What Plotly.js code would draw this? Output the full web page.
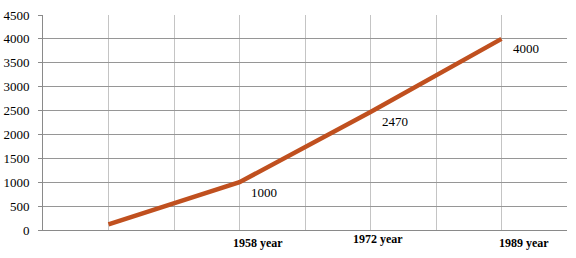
<!DOCTYPE html>
<html>
<head>
<meta charset="utf-8">
<script src="https://cdn.plot.ly/plotly-3.0.1.min.js"></script>
<style>
  html, body { margin: 0; padding: 0; background: #fff; }
  #chart { width: 576px; height: 258px; }
</style>
</head>
<body>
<div id="chart"></div>
<script>
// slots on the x axis (8 grid cells, points sit on gridlines 1,3,5,7)
var slots = [1, 3, 5, 7];
var values = [120, 1000, 2470, 4000];
var yearLabels = ['', '1958 year', '1972 year', '1989 year'];
var yTicks = [0, 500, 1000, 1500, 2000, 2500, 3000, 3500, 4000, 4500];

function initChart() {
  var trace = {
    x: slots, y: values, mode: 'lines',
    line: {color: '#C0501F', width: 4.5},
    hoverinfo: 'none'
  };

  var annos = [];
  // data labels (skip first point, it has none)
  for (var i = 1; i < values.length; i++) {
    annos.push({
      x: slots[i], y: values[i], xref: 'x', yref: 'y',
      text: String(values[i]), showarrow: false,
      xshift: 24, yshift: -10,
      font: {family: 'Liberation Serif', size: 13, color: '#000'}
    });
  }
  // category labels under the axis
  var labelShift = [0, 18, 7, 22];
  var labelDrop = [0, 13, 9, 13];
  for (var j = 1; j < yearLabels.length; j++) {
    annos.push({
      x: slots[j], y: 0, xref: 'x', yref: 'y',
      text: '<b>' + yearLabels[j] + '</b>', showarrow: false,
      xshift: labelShift[j], yshift: -labelDrop[j],
      font: {family: 'Liberation Serif', size: 12, color: '#000'}
    });
  }

  var layout = {
    width: 576, height: 258,
    margin: {l: 43, r: 9, t: 15, b: 28},
    showlegend: false,
    paper_bgcolor: '#fff',
    plot_bgcolor: '#fff',
    xaxis: {
      range: [0, 8], dtick: 1, tick0: 0,
      showticklabels: false, showgrid: true,
      gridcolor: '#c4c4c4', gridwidth: 1,
      zeroline: false, showline: true, linecolor: '#8a8a8a', linewidth: 1,
      mirror: false, fixedrange: true
    },
    yaxis: {
      range: [0, 4500], tickvals: yTicks,
      showgrid: true, gridcolor: '#969696', gridwidth: 1,
      zeroline: false, showline: true, linecolor: '#8a8a8a',
      ticks: 'outside', ticklen: 4, tickcolor: '#8a8a8a',
      ticklabelstandoff: 6,
      tickfont: {family: 'Liberation Serif', size: 13, color: '#000'},
      fixedrange: true
    },
    annotations: annos
  };

  Plotly.newPlot(document.getElementById('chart'), [trace], layout,
    {displayModeBar: false, staticPlot: true});
}

initChart();
</script>
</body>
</html>
